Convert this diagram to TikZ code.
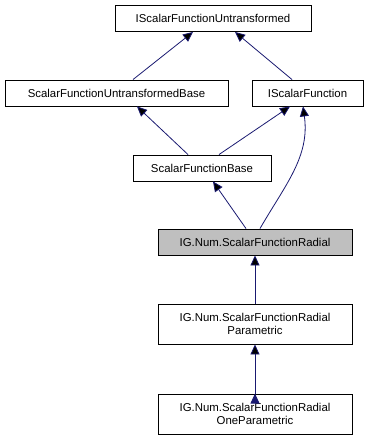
\documentclass[tikz,border=0pt]{standalone}
\usepackage{fontspec}
\setmainfont{Liberation Sans}
\usetikzlibrary{arrows.meta}
\definecolor{edgeblue}{RGB}{25,25,112}
\definecolor{hilite}{RGB}{191,191,191}
\tikzstyle{cls}=[rectangle,draw=black,fill=white,line width=0.9pt,inner sep=2pt,minimum height=26pt,font=\fontsize{11.4}{13}\selectfont,align=center]
\tikzstyle{inherit}=[draw=edgeblue,line width=0.8pt,-{Triangle[length=10pt,width=9pt]}]

\begin{document}
\begin{tikzpicture}[x=1pt,y=1pt,semithick]
\useasboundingbox (0,0) rectangle (370,440);
%\draw[help lines,step=10] (0,0) grid (370,440);
\node[cls,minimum width=196pt] (top)  at (213,421.5) {IScalarFunctionUntransformed};
\node[cls,minimum width=223pt] (sfub) at (116.5,347) {ScalarFunctionUntransformedBase};
\node[cls,minimum width=111pt] (isf)  at (307.5,347) {IScalarFunction};
\node[cls,minimum width=138pt] (sfb)  at (202,272)   {ScalarFunctionBase};
\node[cls,minimum width=194pt,fill=hilite] (rad) at (255,198) {IG.Num.ScalarFunctionRadial};
\node[cls,minimum width=194pt,minimum height=40pt] (par) at (255,116) {IG.Num.ScalarFunctionRadial\\Parametric};
\node[cls,minimum width=194pt,minimum height=40pt] (one) at (255,26)  {IG.Num.ScalarFunctionRadial\\OneParametric};
\path[inherit]
([xshift=16.5pt]sfub.north) edge ([xshift=-20pt]top.south)
([xshift=-15.5pt]isf.north) edge ([xshift=22pt]top.south)
([xshift=-14pt]sfb.north)   edge ([xshift=20.5pt]sfub.south)
([xshift=17pt]sfb.north)    edge ([xshift=-17.5pt]isf.south)
([xshift=-9pt]rad.north)    edge ([xshift=11pt]sfb.south)
([xshift=5pt]rad.north)     edge[out=60,in=-82] ([xshift=-4.5pt]isf.south)
(par.north) edge (rad.south)
(one.north) edge (par.south);
\end{tikzpicture}
\end{document}
